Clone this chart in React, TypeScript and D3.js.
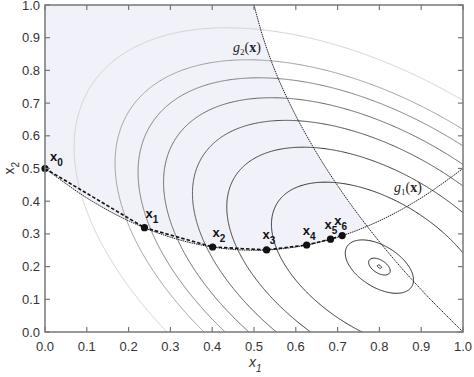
import React from 'react';
import * as d3 from 'd3';

// ---------- data ----------
const xTickValues = [0, 0.1, 0.2, 0.3, 0.4, 0.5, 0.6, 0.7, 0.8, 0.9, 1.0];
const yTickValues = [0, 0.1, 0.2, 0.3, 0.4, 0.5, 0.6, 0.7, 0.8, 0.9, 1.0];
const xTickLabels = ['0.0', '0.1', '0.2', '0.3', '0.4', '0.5', '0.6', '0.7', '0.8', '0.9', '1.0'];
const yTickLabels = ['0.0', '0.1', '0.2', '0.3', '0.4', '0.5', '0.6', '0.7', '0.8', '0.9', '1.0'];

// objective: quadratic bowl with its minimum at (0.8, 0.2)
const objectiveCenter = [0.8, 0.2];
const objectiveWeights = [1, 1, 1]; // dx1^2, dx2^2, dx1*dx2
const contourLevels = [0.4, 0.3, 0.25, 0.2, 0.15, 0.1, 0.05, 0.005, 0.0005, 0.00002];
const contourColors = ['#d2d2d2', '#9c9c9c', '#7c7c7c', '#646464', '#4e4e4e', '#3c3c3c', '#2e2e2e', '#2a2a2a', '#2a2a2a', '#2a2a2a'];

// constraint g1(x)
const g1X = [0, 0.1, 0.2, 0.3, 0.4, 0.5, 0.6, 0.7, 0.8, 0.9, 1.0];
const g1Y = [0.5, 0.41, 0.34, 0.29, 0.26, 0.25, 0.26, 0.29, 0.34, 0.41, 0.5];
// constraint g2(x)
const g2X = [0.5, 0.522, 0.55, 0.585, 0.626, 0.673, 0.726, 0.785, 0.85, 0.922, 1.0];
const g2Y = [1.0, 0.9, 0.8, 0.7, 0.6, 0.5, 0.4, 0.3, 0.2, 0.1, 0.0];

// iterates x0..x6
const iterX = [0.0, 0.238, 0.401, 0.53, 0.626, 0.683, 0.711];
const iterY = [0.5, 0.319, 0.26, 0.251, 0.266, 0.284, 0.295];
const iterLabels = ['0', '1', '2', '3', '4', '5', '6'];

// ---------- layout ----------
const W = 474;
const H = 377;
const L = 45, R = 463, T = 5, B = 332;
const labelDx = [5, 1, 0, -4, -4, -6, -8];
const labelDy = [-8, -10, -10, -11, -10, -10, -11];

export default function App() {
  const xs = d3.scaleLinear().domain([0, 1]).range([L, R]);
  const ys = d3.scaleLinear().domain([0, 1]).range([B, T]);

  // contour field
  const N = 481;
  const g0 = -0.1;
  const step = 1.2 / (N - 1);
  const values = new Float64Array(N * N);
  for (let j = 0; j < N; j++) {
    const y = g0 + j * step;
    for (let i = 0; i < N; i++) {
      const x = g0 + i * step;
      const dx = x - objectiveCenter[0];
      const dy = y - objectiveCenter[1];
      values[j * N + i] = objectiveWeights[0] * dx * dx + objectiveWeights[1] * dy * dy + objectiveWeights[2] * dx * dy;
    }
  }
  const contours = d3.contours().size([N, N]).thresholds(contourLevels)(values as any);
  const proj = d3.geoTransform({
    point(px: number, py: number) {
      (this as any).stream.point(xs(g0 + (px - 0.5) * step), ys(g0 + (py - 0.5) * step));
    },
  });
  const geo = d3.geoPath(proj as any);

  const g1Pts: [number, number][] = g1X.map((x, i) => [xs(x), ys(g1Y[i])]);
  const g2Pts: [number, number][] = g2X.map((x, i) => [xs(x), ys(g2Y[i])]);
  const curve = d3.line().curve(d3.curveCatmullRom.alpha(0.5));
  const g1Path = curve(g1Pts) || '';
  const g2Path = curve(g2Pts) || '';
  const aboveG1 = g1Path + `L${xs(1)},${ys(1)}L${xs(0)},${ys(1)}Z`;
  const leftOfG2 = g2Path + `L${xs(0)},${ys(0)}L${xs(0)},${ys(1)}Z`;

  const iterPath = d3.line()(iterX.map((x, i) => [xs(x), ys(iterY[i])] as [number, number])) || '';

  const frame = '#777';
  const tickLen = 5;
  const sans = "'Liberation Sans', Arial, sans-serif";
  const serif = "'Liberation Serif', 'Times New Roman', serif";

  return (
    <svg width={W} height={H} style={{ position: 'absolute', left: 0, top: 0, background: '#fff' }}>
      <defs>
        <clipPath id="plotClip">
          <rect x={L} y={T} width={R - L} height={B - T} />
        </clipPath>
        <clipPath id="leftG2">
          <path d={leftOfG2} />
        </clipPath>
      </defs>
      <rect x={0} y={0} width={W} height={H} fill="#fff" />
      <g clipPath="url(#plotClip)">
        <g clipPath="url(#leftG2)">
          <path d={aboveG1} fill="#f1f1fa" />
        </g>
        {contours.map((c, k) => (
          <path key={k} d={geo(c as any) || ''} fill="none" stroke={contourColors[contourLevels.indexOf(c.value)]} strokeWidth={1} />
        ))}
        <path d={g1Path} fill="none" stroke="#222" strokeWidth={1} strokeDasharray="1.5,0.8" />
        <path d={g2Path} fill="none" stroke="#222" strokeWidth={1} strokeDasharray="1.5,0.8" />
        <path d={iterPath} fill="none" stroke="#111" strokeWidth={1.6} strokeDasharray="3.5,2" />
      </g>
      {iterX.map((x, i) => (
        <circle key={i} cx={xs(x)} cy={ys(iterY[i])} r={3.6} fill="#111" />
      ))}
      {iterX.map((x, i) => (
        <text key={'l' + i} x={xs(x) + labelDx[i]} y={ys(iterY[i]) + labelDy[i]} fontFamily={sans} fontWeight="bold" fontSize={13} fill="#111">
          x<tspan fontSize={10} dy={5}>{iterLabels[i]}</tspan>
        </text>
      ))}
      <text x={xs(0.45)} y={ys(0.856)} fontFamily={serif} fontSize={14} fill="#222">
        <tspan fontStyle="italic">g</tspan>
        <tspan fontSize={9} dy={3}>2</tspan>
        <tspan dy={-3}>(</tspan>
        <tspan fontWeight="bold">x</tspan>
        <tspan>)</tspan>
      </text>
      <text x={xs(0.835)} y={ys(0.428)} fontFamily={serif} fontSize={14} fill="#222">
        <tspan fontStyle="italic">g</tspan>
        <tspan fontSize={9} dy={3}>1</tspan>
        <tspan dy={-3}>(</tspan>
        <tspan fontWeight="bold">x</tspan>
        <tspan>)</tspan>
      </text>

      {/* frame and ticks */}
      <rect x={L} y={T} width={R - L} height={B - T} fill="none" stroke={frame} strokeWidth={1.5} />
      {xTickValues.map((v, i) => (
        <g key={'xt' + i}>
          <line x1={xs(v)} x2={xs(v)} y1={B} y2={B - tickLen} stroke={frame} strokeWidth={1.2} />
          <line x1={xs(v)} x2={xs(v)} y1={T} y2={T + tickLen} stroke={frame} strokeWidth={1.2} />
          <text x={xs(v)} y={B + 19} textAnchor="middle" fontFamily={sans} fontSize={13} fill="#333">{xTickLabels[i]}</text>
        </g>
      ))}
      {yTickValues.map((v, i) => (
        <g key={'yt' + i}>
          <line x1={L} x2={L + tickLen} y1={ys(v)} y2={ys(v)} stroke={frame} strokeWidth={1.2} />
          <line x1={R} x2={R - tickLen} y1={ys(v)} y2={ys(v)} stroke={frame} strokeWidth={1.2} />
          <text x={40} y={ys(v) + 4.5} textAnchor="end" fontFamily={sans} fontSize={13} fill="#333">{yTickLabels[i]}</text>
        </g>
      ))}
      <text x={249} y={367} fontFamily={sans} fontStyle="italic" fontSize={14} fill="#333">
        x<tspan fontSize={10} dy={5}>1</tspan>
      </text>
      <text transform={`translate(14,${(T + B) / 2 + 6}) rotate(-90)`} fontFamily={sans} fontSize={14} fill="#333">
        x<tspan fontSize={10} dy={5}>2</tspan>
      </text>
    </svg>
  );
}
